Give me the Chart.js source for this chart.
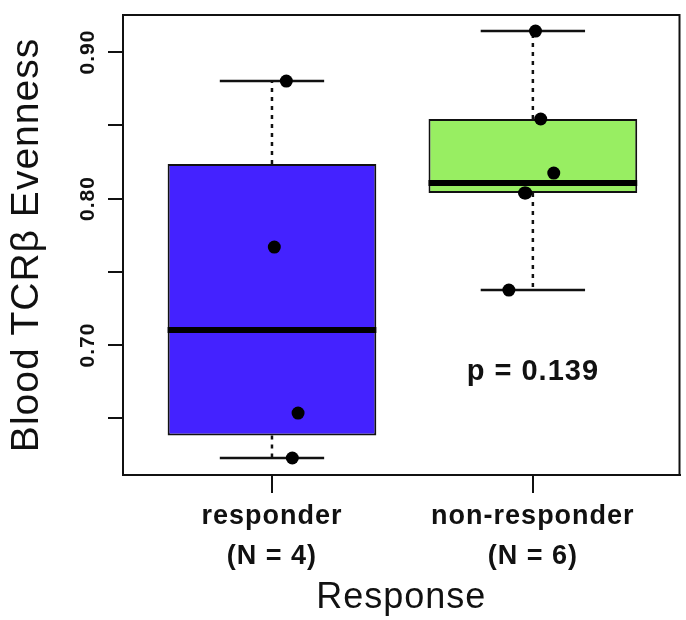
<!DOCTYPE html>
<html>
<head>
<meta charset="utf-8">
<script src="https://cdn.jsdelivr.net/npm/chart.js@4.4.1/dist/chart.umd.min.js"></script>
<style>
  html, body { margin: 0; padding: 0; background: #fff; }
  #wrap { width: 686px; height: 620px; }
</style>
</head>
<body>
<div id="wrap"><canvas id="myChart" width="686" height="620"></canvas></div>
<script>
var groups = ['responder', 'non-responder'];
var groupN = [4, 6];
var boxColors = ['#4422ff', '#98ee62'];

// boxplot numbers (R hinges)
var whiskerLow = [0.6229, 0.7375];
var hingeLow = [0.6383, 0.8038];
var medians = [0.7103, 0.8106];
var hingeHigh = [0.8236, 0.8543];
var whiskerHigh = [0.8802, 0.9143];

// jittered points, x = group position + jitter
var responderX = [1.055, 1.009, 1.100, 1.078];
var responderY = [0.8802, 0.7669, 0.6536, 0.6229];
var nonResponderX = [2.010, 2.030, 2.080, 1.973, 1.968, 1.908];
var nonResponderY = [0.9143, 0.8543, 0.8174, 0.8038, 0.8038, 0.7375];

var yTicks = [0.65, 0.70, 0.75, 0.80, 0.85, 0.90];
var yTickLabels = ['', '0.70', '', '0.80', '', '0.90'];
var pLabel = 'p = 0.139';
var pLabelAt = [2, 0.6816];

var FONT = '"Liberation Sans", Arial, Helvetica, sans-serif';
var INK = '#111';

function init() {
  Chart.defaults.font.family = FONT;
  Chart.defaults.color = INK;

  var boxHalf = 0.4, capHalf = 0.2;
  var medianData = [], whiskerData = [], capData = [];
  for (var i = 0; i < groups.length; i++) {
    var c = i + 1;
    medianData.push({x: c - boxHalf, y: medians[i]}, {x: c + boxHalf, y: medians[i]}, {x: c, y: null});
    whiskerData.push({x: c, y: hingeHigh[i]}, {x: c, y: whiskerHigh[i]}, {x: c, y: null},
                     {x: c, y: hingeLow[i]}, {x: c, y: whiskerLow[i]}, {x: c, y: null});
    capData.push({x: c - capHalf, y: whiskerHigh[i]}, {x: c + capHalf, y: whiskerHigh[i]}, {x: c, y: null},
                 {x: c - capHalf, y: whiskerLow[i]}, {x: c + capHalf, y: whiskerLow[i]}, {x: c, y: null});
  }
  var points = [];
  responderX.forEach(function (x, k) { points.push({x: x, y: responderY[k]}); });
  nonResponderX.forEach(function (x, k) { points.push({x: x, y: nonResponderY[k]}); });

  var extras = {
    id: 'extras',
    beforeDraw: function (chart) { chart.ctx.letterSpacing = '1px'; },
    afterDraw: function (chart) {
      var ctx = chart.ctx, a = chart.chartArea, ys = chart.scales.y, xs = chart.scales.x;
      ctx.save();
      ctx.strokeStyle = INK;
      ctx.lineWidth = 2;
      ctx.strokeRect(a.left, a.top, a.right - a.left, a.bottom - a.top);
      ctx.fillStyle = INK;
      ctx.textAlign = 'center';
      ctx.textBaseline = 'middle';
      ctx.font = 'bold 21px ' + FONT;
      yTicks.forEach(function (v, k) {
        if (!yTickLabels[k]) return;
        ctx.save();
        ctx.translate(a.left - 35, ys.getPixelForValue(v));
        ctx.rotate(-Math.PI / 2);
        ctx.fillText(yTickLabels[k], 0, 0);
        ctx.restore();
      });
      ctx.font = 'bold 29px ' + FONT;
      ctx.fillText(pLabel, xs.getPixelForValue(pLabelAt[0]), ys.getPixelForValue(pLabelAt[1]));
      ctx.restore();
    }
  };

  var ctx = document.getElementById('myChart');
  var chart = new Chart(ctx, {
    type: 'scatter',
    data: {
      datasets: [{
        type: 'scatter',
        data: points,
        pointRadius: 6.5,
        pointBackgroundColor: '#000',
        pointBorderWidth: 0,
        order: 0
      }, {
        type: 'line',
        data: medianData,
        borderColor: '#000',
        borderWidth: 6,
        pointRadius: 0,
        spanGaps: false,
        order: 1
      }, {
        type: 'bar',
        data: groups.map(function (g, k) { return {x: k + 1, y: [hingeLow[k], hingeHigh[k]]}; }),
        backgroundColor: boxColors,
        borderColor: INK,
        borderWidth: 2,
        borderSkipped: false,
        barPercentage: 0.8,
        categoryPercentage: 1,
        order: 2
      }, {
        type: 'line',
        data: whiskerData,
        borderColor: INK,
        borderWidth: 2.5,
        borderDash: [4, 5],
        pointRadius: 0,
        spanGaps: false,
        order: 3
      }, {
        type: 'line',
        data: capData,
        borderColor: INK,
        borderWidth: 2.5,
        pointRadius: 0,
        spanGaps: false,
        order: 3
      }]
    },
    options: {
      responsive: false,
      animation: false,
      layout: { padding: { top: 15, right: 1, left: 0, bottom: 0 } },
      plugins: { legend: { display: false }, tooltip: { enabled: false } },
      scales: {
        x: {
          type: 'linear',
          min: 0.429,
          max: 2.562,
          offset: false,
          afterFit: function (s) { s.height = 145; },
          afterBuildTicks: function (s) { s.ticks = groups.map(function (g, k) { return {value: k + 1}; }); },
          ticks: {
            autoSkip: false,
            maxRotation: 0,
            padding: 3,
            color: INK,
            font: { size: 27, weight: 'bold', lineHeight: 1.5 },
            callback: function (v) {
              var k = Math.round(v) - 1;
              return [groups[k], '(N = ' + groupN[k] + ')'];
            }
          },
          grid: { drawOnChartArea: false, offset: false, tickLength: 18, color: INK, lineWidth: 2 },
          border: { display: true, color: INK, width: 2 },
          title: { display: true, text: 'Response', color: INK, font: { size: 36 }, padding: { top: 0, bottom: 0 } }
        },
        y: {
          type: 'linear',
          min: 0.6113,
          max: 0.9253,
          afterFit: function (s) { s.width = 123; },
          afterBuildTicks: function (s) { s.ticks = yTicks.map(function (v) { return {value: v}; }); },
          ticks: { display: false },
          grid: { drawOnChartArea: false, tickLength: 15, color: INK, lineWidth: 2 },
          border: { display: true, color: INK, width: 2 },
          title: { display: true, text: 'Blood TCRβ Evenness', color: INK, font: { size: 39 }, padding: { top: 4, bottom: 0 } }
        }
      }
    },
    plugins: [extras]
  });
}

init();
</script>
</body>
</html>
